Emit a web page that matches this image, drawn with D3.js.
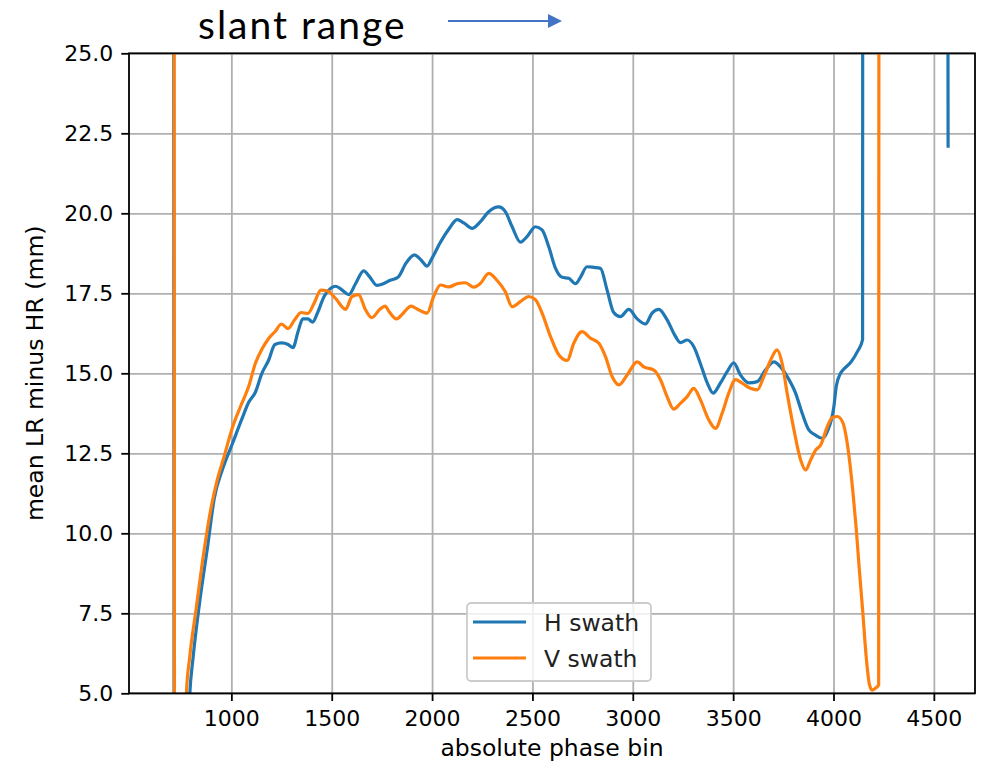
<!DOCTYPE html>
<html>
<head>
<meta charset="utf-8">
<script src="https://cdn.jsdelivr.net/npm/d3@7"></script>
<style>
  body { margin: 0; background: #fff; }
  svg { display: block; }
  .tick text { font-family: "DejaVu Sans", sans-serif; font-size: 22px; fill: #000; }
</style>
</head>
<body>
<div id="chart"></div>
<script>
// H swath: phase bin / mean LR - HR (mm); values > 25 or < 5 run off the axes
const hBins = [712, 718, 793, 809, 841, 882, 915, 956, 1005, 1054, 1087, 1119, 1152, 1185, 1217, 1250, 1283, 1307,
  1332, 1356, 1381, 1405, 1430, 1462, 1495, 1520, 1552, 1585, 1618, 1659, 1691, 1724, 1757, 1789, 1830, 1871,
  1912, 1944, 1975, 2000, 2042, 2083, 2125, 2158, 2199, 2241, 2282, 2332, 2365, 2399, 2440, 2473, 2515, 2548,
  2581, 2615, 2648, 2681, 2715, 2739, 2772, 2806, 2839, 2872, 2905, 2938, 2980, 3022, 3063, 3096, 3130, 3171,
  3213, 3237, 3271, 3304, 3337, 3371, 3400, 3437, 3470, 3503, 3536, 3578, 3620, 3661, 3703, 3736, 3769, 3811,
  3844, 3877, 3910, 3944, 3969, 4002, 4014, 4035, 4047, 4088, 4121, 4145, 4146, 4567, 4571];
const hValues = [40, -20, 5.0, 6.1, 7.8, 9.6, 11.1, 12.0, 12.8, 13.6, 14.1, 14.4, 15.0, 15.4, 15.9, 15.95, 15.9, 15.8,
  16.3, 16.7, 16.7, 16.6, 16.9, 17.4, 17.66, 17.72, 17.6, 17.46, 17.79, 18.2, 18.0, 17.75, 17.8, 17.9, 18.0, 18.45,
  18.7, 18.55, 18.35, 18.6, 19.1, 19.5, 19.8, 19.7, 19.53, 19.74, 20.05, 20.2, 20.05, 19.58, 19.1, 19.27, 19.58, 19.48,
  18.96, 18.28, 18.0, 17.97, 17.8, 18.0, 18.33, 18.31, 18.28, 17.6, 16.9, 16.77, 17.0, 16.7, 16.54, 16.88, 17.0, 16.67,
  16.15, 15.96, 16.04, 15.83, 15.3, 14.7, 14.38, 14.7, 15.05, 15.33, 14.95, 14.7, 14.74, 15.1, 15.36, 15.2, 14.9, 14.38,
  13.75, 13.23, 13.07, 12.97, 13.18, 13.96, 14.6, 15.0, 15.1, 15.36, 15.7, 16.05, 40, 40, 22.1];

// V swath
const vBins = [714, 720, 776, 792, 825, 858, 899, 931, 964, 1005, 1046, 1087, 1119, 1152, 1185, 1217, 1250, 1283,
  1315, 1348, 1381, 1413, 1446, 1479, 1520, 1569, 1601, 1634, 1667, 1699, 1740, 1765, 1789, 1822, 1855, 1895,
  1928, 1961, 1975, 2008, 2042, 2083, 2125, 2166, 2208, 2241, 2282, 2324, 2365, 2399, 2440, 2482, 2515, 2548,
  2590, 2632, 2673, 2706, 2747, 2789, 2831, 2864, 2897, 2931, 2972, 3022, 3055, 3105, 3138, 3171, 3204, 3237,
  3271, 3304, 3337, 3379, 3412, 3445, 3478, 3512, 3545, 3586, 3620, 3653, 3686, 3719, 3744, 3769, 3803, 3836,
  3861, 3886, 3911, 3936, 3969, 3994, 4019, 4047, 4072, 4096, 4113, 4129, 4146, 4162, 4179, 4192, 4209, 4225, 4227];
const vValues = [40, -20, 5.0, 6.1, 7.66, 9.2, 10.8, 11.7, 12.4, 13.3, 13.97, 14.6, 15.3, 15.75, 16.08, 16.3, 16.54, 16.4,
  16.67, 16.9, 16.87, 17.2, 17.6, 17.57, 17.33, 17.0, 17.4, 17.46, 17.0, 16.74, 17.0, 17.1, 16.9, 16.7, 16.87, 17.1,
  17.0, 16.9, 16.88, 17.4, 17.76, 17.7, 17.8, 17.83, 17.69, 17.81, 18.12, 17.9, 17.55, 17.08, 17.24, 17.4, 17.3, 16.88,
  16.15, 15.57, 15.4, 15.94, 16.3, 16.1, 15.94, 15.52, 14.9, 14.64, 14.95, 15.36, 15.2, 15.1, 14.8, 14.27, 13.88, 14.06,
  14.27, 14.53, 14.17, 13.54, 13.28, 13.75, 14.38, 14.8, 14.69, 14.53, 14.48, 14.9, 15.4, 15.73, 15.31, 14.38, 13.23, 12.3,
  11.98, 12.29, 12.6, 12.76, 13.33, 13.62, 13.65, 13.45, 12.66, 11.34, 10.16, 8.84, 7.53, 6.2, 5.28, 5.1, 5.16, 5.26, 40];

const seriesNames = ["H swath", "V swath"];
const seriesColors = ["#1f77b4", "#ff7f0e"];
const xTicks = [1000, 1500, 2000, 2500, 3000, 3500, 4000, 4500];
const yTicks = [5, 7.5, 10, 12.5, 15, 17.5, 20, 22.5, 25];

const W = 997, H = 767;
const margin = { top: 53.3, right: 22, bottom: 73.7, left: 129 };
const width = W - margin.left - margin.right,
      height = H - margin.top - margin.bottom;

const svg = d3.select("#chart").append("svg")
  .attr("width", W)
  .attr("height", H);

svg.append("rect").attr("width", W).attr("height", H).attr("fill", "#fff");

const g = svg.append("g")
  .attr("transform", `translate(${margin.left},${margin.top})`);

const x = d3.scaleLinear().domain([490, 4705]).range([0, width]);
const y = d3.scaleLinear().domain([5, 25]).range([height, 0]);

// grid
g.append("g")
  .attr("transform", `translate(0,${height})`)
  .call(d3.axisBottom(x).tickValues(xTicks).tickSize(-height).tickFormat(""))
  .call(s => s.select(".domain").remove())
  .selectAll("line").attr("stroke", "#b0b0b0").attr("stroke-width", 1.8);
g.append("g")
  .call(d3.axisLeft(y).tickValues(yTicks).tickSize(-width).tickFormat(""))
  .call(s => s.select(".domain").remove())
  .selectAll("line").attr("stroke", "#b0b0b0").attr("stroke-width", 1.8);

// lines
g.append("clipPath").attr("id", "plotclip")
  .append("rect").attr("width", width).attr("height", height);

const line = d3.line()
  .x(d => x(d[0]))
  .y(d => y(d[1]))
  .curve(d3.curveMonotoneX);

const series = [
  d3.zip(hBins, hValues),
  d3.zip(vBins, vValues)
];

g.append("g").attr("clip-path", "url(#plotclip)")
  .selectAll("path")
  .data(series)
  .enter().append("path")
  .attr("d", line)
  .attr("fill", "none")
  .attr("stroke", (d, i) => seriesColors[i])
  .attr("stroke-width", 3.2)
  .attr("stroke-linejoin", "round")
  .attr("stroke-linecap", "square");

// axes
const xAxis = g.append("g")
  .attr("transform", `translate(0,${height})`)
  .call(d3.axisBottom(x).tickValues(xTicks).tickSize(7.7).tickPadding(8).tickFormat(d3.format("d")));
const yAxis = g.append("g")
  .call(d3.axisLeft(y).tickValues(yTicks).tickSize(7.7).tickPadding(8).tickFormat(d3.format(".1f")));
[xAxis, yAxis].forEach(a => {
  a.select(".domain").remove();
  a.selectAll("line").attr("stroke", "#000").attr("stroke-width", 1.8);
});
xAxis.selectAll("text").attr("dy", "0.78em");

g.append("rect")
  .attr("width", width).attr("height", height)
  .attr("fill", "none").attr("stroke", "#000").attr("stroke-width", 1.8);

// axis labels
svg.append("text")
  .attr("x", margin.left + width / 2)
  .attr("y", 756)
  .attr("text-anchor", "middle")
  .style("font-family", "DejaVu Sans, sans-serif")
  .style("font-size", "23.5px")
  .text("absolute phase bin");

svg.append("text")
  .attr("transform", `translate(43,${margin.top + height / 2}) rotate(-90)`)
  .attr("text-anchor", "middle")
  .style("font-family", "DejaVu Sans, sans-serif")
  .style("font-size", "23.5px")
  .text("mean LR minus HR (mm)");

// legend
const legend = svg.append("g").attr("transform", "translate(467,603)");
legend.append("rect")
  .attr("width", 184).attr("height", 78).attr("rx", 4)
  .attr("fill", "#fff").attr("fill-opacity", 0.8)
  .attr("stroke", "#cccccc").attr("stroke-width", 1.8);
seriesNames.forEach((name, i) => {
  const ly = 19 + i * 36;
  legend.append("line")
    .attr("x1", 6).attr("x2", 59).attr("y1", ly).attr("y2", ly)
    .attr("stroke", seriesColors[i]).attr("stroke-width", 3.2);
  legend.append("text")
    .attr("x", 77).attr("y", ly + 9)
    .style("font-family", "DejaVu Sans, sans-serif")
    .style("font-size", "23.5px")
    .attr("fill", "#222")
    .text(name);
});

// slide annotation above the plot
svg.append("text")
  .attr("x", 198).attr("y", 39)
  .style("font-family", "Lato, 'Open Sans', sans-serif")
  .style("font-size", "39px")
  .style("letter-spacing", "2px")
  .attr("fill", "#000")
  .text("slant range");

svg.append("defs").append("marker")
  .attr("id", "arrowhead")
  .attr("viewBox", "0 0 10 10")
  .attr("refX", 0).attr("refY", 5)
  .attr("markerWidth", 7).attr("markerHeight", 7)
  .attr("markerUnits", "strokeWidth")
  .attr("orient", "auto")
  .append("path").attr("d", "M0,0 L10,5 L0,10 Z").attr("fill", "#4472c4");

svg.append("line")
  .attr("x1", 448).attr("y1", 21).attr("x2", 548).attr("y2", 21)
  .attr("stroke", "#4472c4").attr("stroke-width", 2)
  .attr("marker-end", "url(#arrowhead)");
</script>
</body>
</html>
